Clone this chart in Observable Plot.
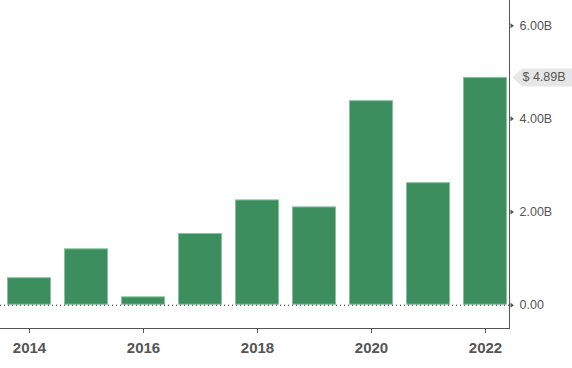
<!DOCTYPE html>
<html>
<head>
<meta charset="utf-8">
<script src="https://cdn.jsdelivr.net/npm/d3@7"></script>
<script src="https://cdn.jsdelivr.net/npm/@observablehq/plot@0.6"></script>
<style>
  html, body { margin: 0; padding: 0; background: #fff; }
  #chart svg { display: block; }
</style>
</head>
<body>
<div id="chart"></div>
<script>
const years = [2014, 2015, 2016, 2017, 2018, 2019, 2020, 2021, 2022];
const values = [0.59, 1.21, 0.18, 1.54, 2.26, 2.11, 4.39, 2.63, 4.89]; // billions USD
const xTickYears = [2014, 2016, 2018, 2020, 2022];
const yTicks = [0, 2, 4, 6];
const yDomain = [-0.5, 6.54];
const lastLabel = "$ 4.89B";
const lastValue = 4.89;

const data = years.map((y, i) => ({year: y, value: values[i]}));

const tagSymbol = {
  draw(ctx) {
    ctx.moveTo(0, 0);
    ctx.lineTo(10, -9);
    ctx.lineTo(62, -9);
    ctx.lineTo(62, 9);
    ctx.lineTo(10, 9);
    ctx.closePath();
  }
};
const triSymbol = {
  draw(ctx) {
    ctx.moveTo(0, -2.5);
    ctx.lineTo(3.5, 0);
    ctx.lineTo(0, 2.5);
    ctx.closePath();
  }
};

const chart = Plot.plot({
  width: 572,
  height: 368,
  marginLeft: 0,
  marginRight: 63,
  marginTop: 0,
  marginBottom: 40,
  style: {fontFamily: "Arial, 'Liberation Sans', Helvetica, sans-serif", background: "#fff"},
  x: {domain: years, paddingInner: 0.228, paddingOuter: 0.079, align: 0.78, round: false, label: null},
  y: {domain: yDomain, label: null},
  marks: [
    Plot.barY(data, {x: "year", y: "value", fill: "#3c8e5e", stroke: "#86c39c", strokeWidth: 1, inset: 0.5}),
    Plot.ruleY([0], {stroke: "#222", strokeDasharray: "1,3", strokeWidth: 1}),
    Plot.frame({anchor: "right", stroke: "#555"}),
    Plot.frame({anchor: "bottom", stroke: "#555"}),
    Plot.axisX({ticks: xTickYears, tickSize: 5, tickPadding: 9, tickFormat: d => String(d), fontSize: 15, fontWeight: "bold", fill: "#555", stroke: "#555", label: null}),
    Plot.axisY({anchor: "right", ticks: yTicks, tickSize: 0, tickPadding: 10, tickFormat: d => d === 0 ? "0.00" : d.toFixed(2) + "B", fontSize: 12.5, fill: "#555", label: null}),
    Plot.dot(yTicks, {y: d => d, frameAnchor: "right", dx: 1, symbol: triSymbol, fill: "#555", stroke: null}),
    Plot.dot([lastValue], {y: d => d, frameAnchor: "right", dx: 3, symbol: tagSymbol, fill: "#e6e6e6", stroke: null}),
    Plot.text([lastLabel], {y: () => lastValue, frameAnchor: "right", dx: 13, textAnchor: "start", fontSize: 12.5, fill: "#555"})
  ]
});
document.getElementById("chart").appendChild(chart);
</script>
</body>
</html>
